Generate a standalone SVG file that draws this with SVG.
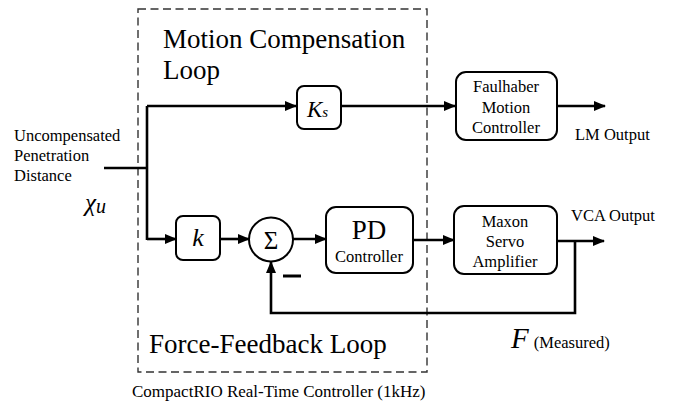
<svg xmlns="http://www.w3.org/2000/svg" width="678" height="404" viewBox="0 0 678 404" font-family="'Liberation Serif', 'Times New Roman', serif">
<defs>
<marker id="ah" markerWidth="12" markerHeight="10" refX="11" refY="5" orient="auto" markerUnits="userSpaceOnUse">
<path d="M0,0 L12,5 L0,10 Z" fill="#000"/>
</marker>
<style>
text, tspan{font-family:"Liberation Serif","Times New Roman",serif;fill:#000}
.box{fill:#fff;stroke:#000;stroke-width:2}
.wire{fill:none;stroke:#000;stroke-width:2.6}
.it{font-style:italic}
.sm{font-size:16.5px}
</style>
</defs>
<rect width="678" height="404" fill="#fff"/>
<rect id="rio" x="138" y="9" width="289" height="363" fill="none" stroke="#333" stroke-width="1.4" stroke-dasharray="8,4.5"/>
<text font-size="27" x="163" y="48">Motion Compensation</text>
<text font-size="27" x="163" y="79">Loop</text>
<text font-size="27" x="149" y="353">Force-Feedback Loop</text>
<text x="132" y="397" font-size="17">CompactRIO Real-Time Controller (1kHz)</text>
<g id="input">
<text class="sm" x="14" y="141">Uncompensated</text>
<text class="sm" x="14" y="161">Penetration</text>
<text class="sm" x="14" y="181">Distance</text>
<text class="it" x="85" y="211" font-size="25">χ<tspan font-size="20" dy="2">u</tspan></text>
</g>
<g id="connectors">
<path class="wire" d="M104,168 H147"/>
<path class="wire" d="M147,106 V240"/>
<path class="wire" d="M147,106 H296" marker-end="url(#ah)"/>
<path class="wire" d="M341,106 H455" marker-end="url(#ah)"/>
<path class="wire" d="M557,106 H605" marker-end="url(#ah)"/>
<path class="wire" d="M147,239 H176" marker-end="url(#ah)"/>
<path class="wire" d="M220,239 H249" marker-end="url(#ah)"/>
<path class="wire" d="M293,239 H326" marker-end="url(#ah)"/>
<path class="wire" d="M413,240 H454" marker-end="url(#ah)"/>
<path class="wire" d="M557,241 H604" marker-end="url(#ah)"/>
<path class="wire" d="M575,241 V313 H271 V262" marker-end="url(#ah)"/>
<path d="M283,276 H301" stroke="#000" stroke-width="3"/>
</g>
<g id="ks">
<rect class="box" x="297" y="86" width="44" height="43" rx="7"/>
<text class="it" x="307" y="117" font-size="23">K<tspan font-size="15">s</tspan></text>
</g>
<g id="faulhaber">
<rect class="box" x="456" y="72" width="101" height="68" rx="10"/>
<text class="sm" x="506" y="92" text-anchor="middle">Faulhaber</text>
<text class="sm" x="506" y="113" text-anchor="middle">Motion</text>
<text class="sm" x="506" y="133" text-anchor="middle">Controller</text>
</g>
<text id="lm" class="sm" x="575" y="140">LM Output</text>
<g id="k">
<rect class="box" x="176" y="216" width="44" height="44" rx="7"/>
<text class="it" x="198" y="246" font-size="26" text-anchor="middle">k</text>
</g>
<g id="sum">
<circle class="box" cx="271" cy="239.5" r="22"/>
<text x="271" y="249" font-size="25" text-anchor="middle">Σ</text>
</g>
<g id="pd">
<rect class="box" x="326" y="207" width="87" height="66" rx="10"/>
<text x="369" y="239" font-size="27" text-anchor="middle">PD</text>
<text class="sm" x="369" y="262" text-anchor="middle">Controller</text>
</g>
<g id="maxon">
<rect class="box" x="454" y="206" width="103" height="68" rx="10"/>
<text class="sm" x="505" y="227" text-anchor="middle">Maxon</text>
<text class="sm" x="505" y="247" text-anchor="middle">Servo</text>
<text class="sm" x="505" y="267" text-anchor="middle">Amplifier</text>
</g>
<text id="vca" x="571" y="221" font-size="16.5">VCA Output</text>
<text id="fm" x="511" y="348"><tspan class="it" font-size="29">F</tspan><tspan font-size="16.5" dx="5">(Measured)</tspan></text>
</svg>
